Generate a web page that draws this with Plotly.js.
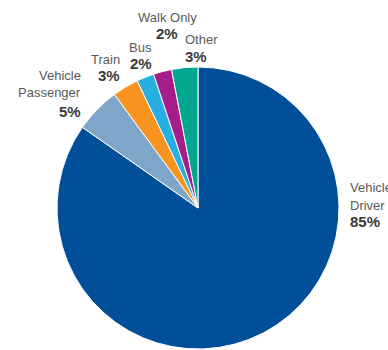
<!DOCTYPE html>
<html>
<head>
<meta charset="utf-8">
<script src="https://cdn.plot.ly/plotly-3.0.1.min.js"></script>
<style>html,body{margin:0;padding:0;background:#fff;}#chart{width:388px;height:350px;}</style>
</head>
<body>
<div id="chart"></div>
<script>
// Data (order: clockwise from 12 o'clock)
const categories = ["Vehicle Driver", "Vehicle Passenger", "Train", "Bus", "Walk Only", "Other"];
const values = [84.7, 5.2, 3.0, 2.0, 2.1, 3.0];
const colors = ["#004f98", "#7fa5c8", "#f7931e", "#27aee3", "#a51d8b", "#00a78e"];
const labelLines = [["Vehicle", "Driver"], ["Vehicle", "Passenger"], ["Train"], ["Bus"], ["Walk Only"], ["Other"]];

const W = 388, H = 350;
// label anchor pixels: x, line centre ys, percent centre y, alignment
const labelPos = [
  {x: 348, ys: [187, 205], py: 222, a: "left"},
  {x: 83,  ys: [75, 92],   py: 111, a: "right"},
  {x: 122, ys: [59],       py: 76,  a: "right"},
  {x: 154, ys: [48],       py: 64,  a: "right"},
  {x: 167, ys: [17],       py: 33,  a: "center"},
  {x: 183, ys: [39],       py: 57,  a: "left"}
];

const total = values.reduce((s, v) => s + v, 0);
const annotations = [];
const fam = "Liberation Sans, Arial, sans-serif";
categories.forEach((c, i) => {
  const p = labelPos[i];
  labelLines[i].forEach((ln, j) => {
    annotations.push({
      xref: "paper", yref: "paper",
      x: p.x / W, y: 1 - p.ys[j] / H,
      xanchor: p.a, yanchor: "middle",
      text: ln, showarrow: false,
      font: {family: fam, size: 13, color: "#5a5a5a"}
    });
  });
  annotations.push({
    xref: "paper", yref: "paper",
    x: p.x / W, y: 1 - p.py / H,
    xanchor: p.a, yanchor: "middle",
    text: "<b>" + Math.round(values[i] / total * 100) + "%</b>",
    showarrow: false,
    font: {family: fam, size: 15, color: "#3a3a3a"}
  });
});

const cx = 198, cy = 208, r = 141;
const trace = {
  type: "pie",
  labels: categories,
  values: values,
  sort: false,
  direction: "clockwise",
  rotation: 0,
  textinfo: "none",
  hoverinfo: "label+percent",
  marker: {colors: colors, line: {color: "#ffffff", width: 1}},
  domain: {x: [(cx - r) / W, (cx + r) / W], y: [(H - cy - r) / H, (H - cy + r) / H]},
  showlegend: false
};

Plotly.newPlot("chart", [trace], {
  width: W, height: H,
  margin: {l: 0, r: 0, t: 0, b: 0},
  paper_bgcolor: "#ffffff",
  showlegend: false,
  annotations: annotations
}, {displayModeBar: false, staticPlot: true});
</script>
</body>
</html>
